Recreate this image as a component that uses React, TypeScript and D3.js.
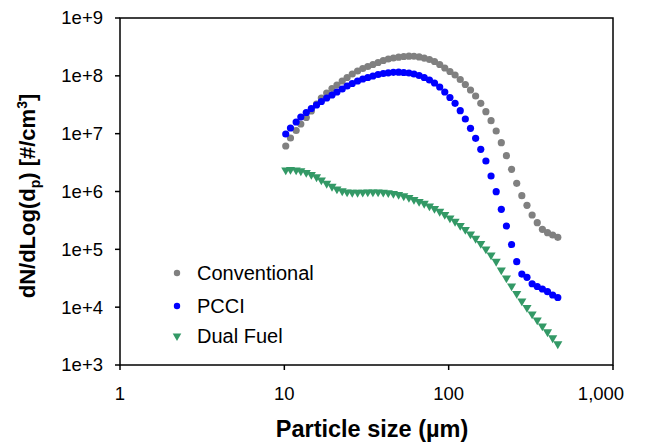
import React from "react";
import * as d3 from "d3";

// Particle diameters (nm channels, 32 per decade)
const sizes = [
  10.2, 10.9, 11.8, 12.6, 13.6, 14.6, 15.7, 16.8, 18.1, 19.5, 20.9, 22.5, 24.1, 25.9, 27.9, 30.0,
  32.2, 34.6, 37.2, 40.0, 42.9, 46.1, 49.6, 53.3, 57.3, 61.5, 66.1, 71.0, 76.4, 82.0, 88.2, 94.7,
  101.8, 109.4, 117.6, 126.3, 135.8, 145.9, 156.8, 168.5, 181.1, 194.6, 209.1, 224.7, 241.4, 259.5,
  278.8, 299.6, 322.0, 346.0, 371.8, 399.5, 429.4, 461.4,
];

const conventional = [
  6.12e6, 8.41e6, 1.134e7, 1.469e7, 1.903e7, 2.465e7, 3.257e7, 4.135e7, 5.05e7, 6.04e7, 6.94e7,
  8.14e7, 9.36e7, 1.076e8, 1.212e8, 1.339e8, 1.45e8, 1.57e8, 1.7e8, 1.842e8, 1.954e8, 2.034e8,
  2.1e8, 2.16e8, 2.185e8, 2.18e8, 2.12e8, 2.03e8, 1.916e8, 1.769e8, 1.57e8, 1.366e8, 1.188e8,
  1.034e8, 8.64e7, 7.08e7, 5.69e7, 4.48e7, 3.35e7, 2.4e7, 1.676e7, 1.112e7, 6.98e6, 4.16e6,
  2.42e6, 1.386e6, 8.46e5, 5.77e5, 3.92e5, 2.89e5, 2.22e5, 1.938e5, 1.768e5, 1.614e5,
];

const pcci = [
  9.86e6, 1.253e7, 1.591e7, 1.942e7, 2.322e7, 2.723e7, 3.13e7, 3.6e7, 4.135e7, 4.66e7, 5.25e7,
  5.92e7, 6.67e7, 7.37e7, 8.14e7, 8.81e7, 9.36e7, 9.93e7, 1.054e8, 1.097e8, 1.128e8, 1.151e8,
  1.155e8, 1.142e8, 1.119e8, 1.076e8, 1.013e8, 9.36e7, 8.47e7, 7.52e7, 6.41e7, 5.25e7, 4.22e7,
  3.35e7, 2.495e7, 1.793e7, 1.238e7, 8.31e6, 5.36e6, 3.37e6, 1.853e6, 9.92e5, 4.92e5, 2.53e5,
  1.211e5, 6.11e4, 3.74e4, 3.28e4, 2.54e4, 2.275e4, 2.06e4, 1.85e4, 1.623e4, 1.469e4,
];

const dualFuel = [
  2.353e6, 2.4e6, 2.353e6, 2.262e6, 2.13e6, 1.967e6, 1.781e6, 1.58e6, 1.375e6, 1.22e6, 1.104e6,
  1.02e6, 9.8e5, 9.61e5, 9.61e5, 9.69e5, 9.8e5, 9.8e5, 9.8e5, 9.69e5, 9.49e5, 9.23e5, 8.87e5,
  8.36e5, 7.87e5, 7.27e5, 6.71e5, 6.2e5, 5.61e5, 5.08e5, 4.51e5, 4.0e5, 3.48e5, 3.03e5, 2.58e5,
  2.2e5, 1.84e5, 1.539e5, 1.261e5, 1.013e5, 7.97e4, 6.16e4, 4.39e4, 3.19e4, 2.32e4, 1.722e4,
  1.277e4, 9.86e3, 7.61e3, 5.99e3, 4.72e3, 3.72e3, 2.93e3, 2.31e3,
];

const seriesNames = ["Conventional", "PCCI", "Dual Fuel"];
const xTickValues = [1, 10, 100, 1000];
const xTickLabels = ["1", "10", "100", "1,000"];
const yTickValues = [1e3, 1e4, 1e5, 1e6, 1e7, 1e8, 1e9];
const yTickLabels = ["1e+3", "1e+4", "1e+5", "1e+6", "1e+7", "1e+8", "1e+9"];

const W = 646;
const H = 443;
const left = 120;
const right = 613;
const top = 18;
const bottom = 365;

export default function App() {
  const x = d3.scaleLog().domain([1, 1000]).range([left, right]);
  const y = d3.scaleLog().domain([1e3, 1e9]).range([bottom, top]);

  const circle = d3.symbol().type(d3.symbolCircle).size(Math.PI * 3.6 * 3.6)()!;
  const tri = d3.symbol().type(d3.symbolTriangle).size(36)()!;
  const legendCircle = d3.symbol().type(d3.symbolCircle).size(Math.PI * 3.2 * 3.2)()!;
  const legendTri = d3.symbol().type(d3.symbolTriangle).size(32)()!;

  const series = [
    { name: seriesNames[0], values: conventional, color: "#808080", kind: "circle" },
    { name: seriesNames[1], values: pcci, color: "#0000FF", kind: "circle" },
    { name: seriesNames[2], values: dualFuel, color: "#339966", kind: "tri" },
  ];

  const font = "'Liberation Sans', Arial, sans-serif";
  const legendY = [273, 306, 336];

  return (
    <svg
      width={W}
      height={H}
      style={{ position: "absolute", left: 0, top: 0, background: "#fff" }}
      fontFamily={font}
    >
      <rect x={0} y={0} width={W} height={H} fill="#fff" />
      {/* plot frame */}
      <rect
        x={left}
        y={top}
        width={right - left}
        height={bottom - top}
        fill="none"
        stroke="#000"
        strokeWidth={1.5}
      />
      {/* y ticks */}
      {yTickValues.map((v, i) => (
        <g key={"y" + i}>
          <line x1={left - 5} x2={left} y1={y(v)} y2={y(v)} stroke="#000" strokeWidth={1.5} />
          <text
            x={left - 17}
            y={y(v)}
            dy="0.35em"
            textAnchor="end"
            fontSize={18.5}
            fill="#000"
          >
            {yTickLabels[i]}
          </text>
        </g>
      ))}
      {/* x ticks */}
      {xTickValues.map((v, i) => (
        <g key={"x" + i}>
          <line x1={x(v)} x2={x(v)} y1={bottom} y2={bottom + 5} stroke="#000" strokeWidth={1.5} />
          <text
            x={Math.min(x(v), W - 45)}
            y={400}
            textAnchor="middle"
            fontSize={18.5}
            fill="#000"
          >
            {xTickLabels[i]}
          </text>
        </g>
      ))}
      {/* data */}
      {series.map((s) => (
        <g key={s.name}>
          {s.values.map((v, i) => (
            <path
              key={i}
              d={s.kind === "circle" ? circle : tri}
              transform={
                `translate(${x(sizes[i])},${y(v)})` + (s.kind === "tri" ? " rotate(180)" : "")
              }
              fill={s.color}
            />
          ))}
        </g>
      ))}
      {/* legend */}
      {series.map((s, i) => (
        <g key={"lg" + i}>
          <path
            d={s.kind === "circle" ? legendCircle : legendTri}
            transform={
              `translate(177,${legendY[i]})` + (s.kind === "tri" ? " rotate(180)" : "")
            }
            fill={s.color}
          />
          <text x={197} y={legendY[i]} dy="0.35em" fontSize={20} fill="#000">
            {s.name}
          </text>
        </g>
      ))}
      {/* axis titles */}
      <text x={372} y={437} textAnchor="middle" fontSize={23.5} fontWeight="bold" fill="#000">
        Particle size (µm)
      </text>
      <text
        transform="translate(35,196) rotate(-90)"
        textAnchor="middle"
        fontSize={22}
        fontWeight="bold"
        fill="#000"
      >
        dN/dLog(d
        <tspan fontSize={14} dy={5}>
          p
        </tspan>
        <tspan dy={-5}>) [#/cm</tspan>
        <tspan fontSize={14} dy={-8}>
          3
        </tspan>
        <tspan dy={8}>]</tspan>
      </text>
    </svg>
  );
}
